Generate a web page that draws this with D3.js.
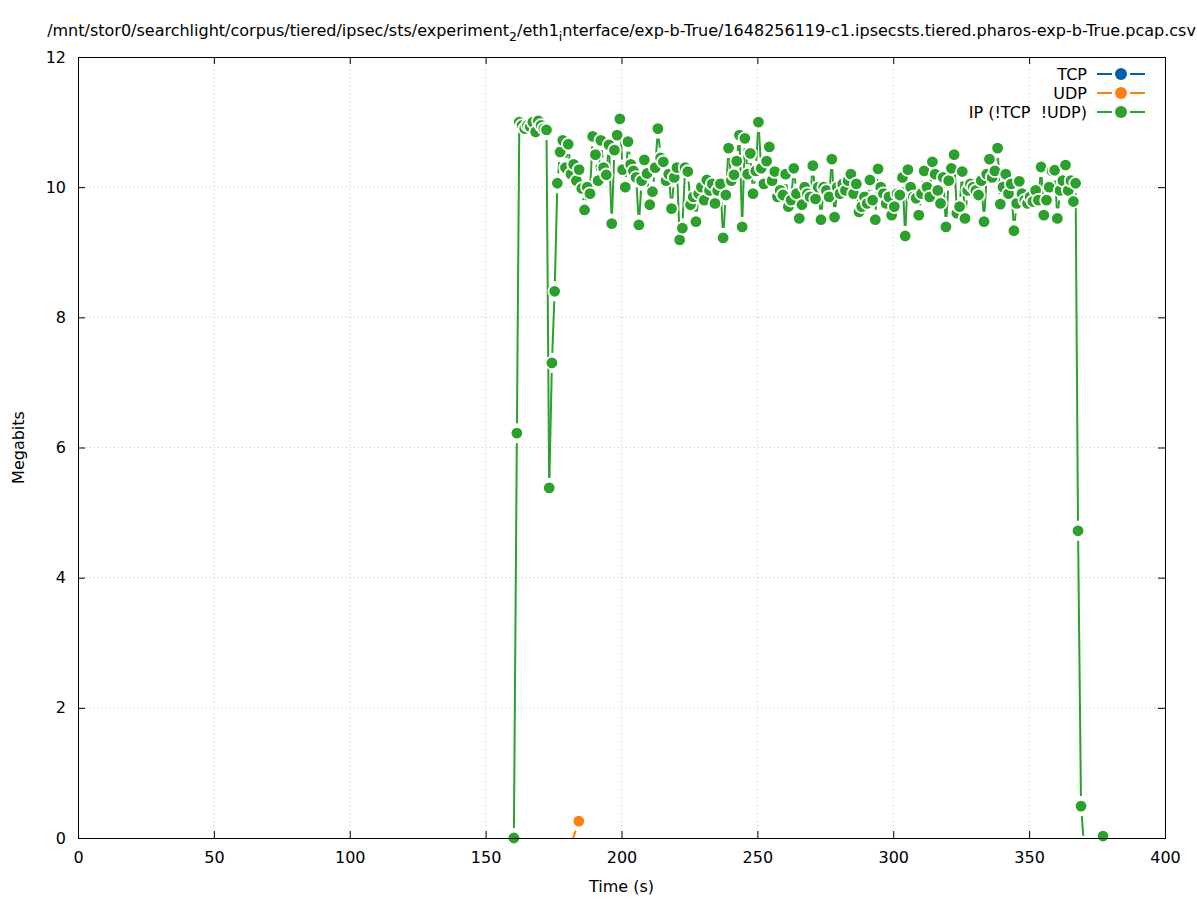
<!DOCTYPE html>
<meta charset="utf-8">
<style>
body { margin: 0; background: #fff; }
svg text { font-family: 'DejaVu Sans'; font-size: 16px; fill: #000; white-space: pre; }
.grid line { stroke: #c4c4c4; stroke-width: 1; stroke-dasharray: 1 3; }
.axis path { display: none; }
.axis line { stroke: #000; }
</style>
<svg id="svg" width="1197" height="900"></svg>
<script src="https://d3js.org/d3.v7.min.js"></script>
<script>

// title pieces, [text, isSubscript]
const titleParts = [
    ['/mnt/stor0/searchlight/corpus/tiered/ipsec/sts/experiment', false],
    ['2', true],
    ['/eth1', false],
    ['i', true],
    ['nterface/exp-b-True/1648256119-c1.ipsecsts.tiered.pharos-exp-b-True.pcap.csv', false]
]

const xTicks = [0, 50, 100, 150, 200, 250, 300, 350, 400]
const yTicks = [0, 2, 4, 6, 8, 10, 12]
const xLabel = 'Time (s)'
const yLabel = 'Megabits'

const seriesNames = ['TCP', 'UDP', 'IP (!TCP  !UDP)']

// [time (s), megabits]; samples just under 0 fall outside the y range,
// so only their clipped line pieces show
const tcpSeries = []
const udpSeries = [[180.6, -0.2], [184.3, 0.26]]
const ipSeries = [
    [160.4, 0], [161.5, 6.22], [162.4, 11.0], [163.4, 10.95], [164.4, 10.9], [165.4, 10.95],
    [166.4, 10.93], [167.4, 11.0], [168.4, 10.85], [169.4, 11.02], [170.4, 10.95], [171.4, 10.9],
    [172.4, 10.88], [173.4, 5.38], [174.4, 7.3], [175.4, 8.4], [176.4, 10.06], [177.4, 10.54],
    [178.4, 10.72], [179.4, 10.3], [180.4, 10.66], [181.4, 10.2], [182.4, 10.35], [183.4, 10.1],
    [184.4, 10.27], [185.4, 9.98], [186.4, 9.65], [187.4, 10.0], [188.4, 9.9], [189.4, 10.78],
    [190.4, 10.5], [191.4, 10.1], [192.4, 10.72], [193.4, 10.3], [194.4, 10.19], [195.4, 10.65],
    [196.4, 9.44], [197.4, 10.57], [198.4, 10.8], [199.4, 11.05], [200.4, 10.27], [201.4, 10.0],
    [202.4, 10.7], [203.4, 10.35], [204.4, 10.25], [205.4, 10.15], [206.4, 9.42], [207.4, 10.1],
    [208.4, 10.42], [209.4, 10.21], [210.4, 9.73], [211.4, 9.93], [212.4, 10.3], [213.4, 10.9],
    [214.4, 10.45], [215.4, 10.39], [216.4, 10.1], [217.4, 10.2], [218.4, 9.67], [219.4, 10.15],
    [220.4, 10.3], [221.4, 9.19], [222.4, 9.37], [223.4, 10.3], [224.4, 10.24], [225.4, 9.73],
    [226.4, 9.85], [227.4, 9.47], [228.4, 9.9], [229.4, 10.0], [230.4, 9.8], [231.4, 10.11],
    [232.4, 9.95], [233.4, 10.05], [234.4, 9.75], [235.4, 9.95], [236.4, 10.05], [237.4, 9.22],
    [238.4, 9.88], [239.4, 10.6], [240.4, 10.1], [241.4, 10.19], [242.4, 10.4], [243.4, 10.8],
    [244.4, 9.39], [245.4, 10.75], [246.4, 10.2], [247.4, 10.52], [248.4, 9.9], [249.4, 10.25],
    [250.4, 11.0], [251.4, 10.29], [252.4, 10.05], [253.4, 10.4], [254.4, 10.62], [255.4, 10.1],
    [256.4, 10.24], [257.4, 9.85], [258.4, 9.95], [259.4, 9.88], [260.4, 10.2], [261.4, 9.7],
    [262.4, 9.8], [263.4, 10.29], [264.4, 9.9], [265.4, 9.52], [266.4, 9.73], [267.4, 10.0],
    [268.4, 9.9], [269.4, 9.85], [270.4, 10.33], [271.4, 9.82], [272.4, 10.0], [273.4, 9.5],
    [274.4, 10.0], [275.4, 9.95], [276.4, 9.85], [277.4, 10.43], [278.4, 9.54], [279.4, 10.0],
    [280.4, 9.9], [281.4, 10.05], [282.4, 9.95], [283.4, 10.1], [284.4, 10.2], [285.4, 9.9],
    [286.4, 10.05], [287.4, 9.62], [288.4, 9.7], [289.4, 9.85], [290.4, 9.75], [291.4, 10.11],
    [292.4, 9.8], [293.4, 9.5], [294.4, 10.28], [295.4, 10.0], [296.4, 9.9], [297.4, 9.75],
    [298.4, 9.85], [299.4, 9.57], [300.4, 9.7], [301.4, 9.9], [302.4, 9.88], [303.4, 10.15],
    [304.4, 9.25], [305.4, 10.27], [306.4, 10.0], [307.4, 9.85], [308.4, 9.83], [309.4, 9.57],
    [310.4, 9.9], [311.4, 10.25], [312.4, 10.0], [313.4, 9.85], [314.4, 10.39], [315.4, 10.2],
    [316.4, 9.95], [317.4, 9.75], [318.4, 10.15], [319.4, 9.39], [320.4, 10.1], [321.4, 10.29],
    [322.4, 10.5], [323.4, 9.6], [324.4, 9.7], [325.4, 10.24], [326.4, 9.52], [327.4, 9.95],
    [328.4, 10.05], [329.4, 10.0], [330.4, 9.95], [331.4, 9.88], [332.4, 10.1], [333.4, 9.47],
    [334.4, 10.2], [335.4, 10.43], [336.4, 10.15], [337.4, 10.25], [338.4, 10.6], [339.4, 9.74],
    [340.4, 10.0], [341.4, 10.2], [342.4, 9.9], [343.4, 10.05], [344.4, 9.33], [345.4, 9.75],
    [346.4, 10.09], [347.4, 9.9], [348.4, 9.8], [349.4, 9.75], [350.4, 9.85], [351.4, 9.78],
    [352.4, 9.95], [353.4, 9.8], [354.4, 10.31], [355.4, 9.57], [356.4, 9.8], [357.4, 10.0],
    [358.4, 10.25], [359.4, 10.26], [360.4, 9.52], [361.4, 9.95], [362.4, 10.1], [363.4, 10.34],
    [364.4, 9.95], [365.4, 10.1], [366.3, 9.78], [367.1, 10.06], [368.0, 4.72], [369.1, 0.49],
    [370.2, -0.12], [377.2, 0.03]
]

const allSeries = [tcpSeries, udpSeries, ipSeries]
const colors = ['#0060ad', '#ff7f0e', '#2ca02c']

function translate(x, y) {
    return 'translate(' + x + ',' + y + ')'
}

let plot = {left: 78, right: 1165, top: 57, bottom: 838}
let svg = d3.select('#svg')

let x = d3.scaleLinear().domain([0, 400]).range([plot.left, plot.right])
let y = d3.scaleLinear().domain([0, 12]).range([plot.bottom, plot.top])

svg.append('clipPath').attr('id', 'plotclip')
    .append('rect')
    .attr('x', plot.left).attr('y', plot.top)
    .attr('width', plot.right - plot.left).attr('height', plot.bottom - plot.top)

// title
let title = svg.append('text')
    .attr('x', (plot.left + plot.right) / 2)
    .attr('y', 36)
    .attr('text-anchor', 'middle')

titleParts.forEach((p, i) => {
    let t = title.append('tspan').text(p[0])
    if (p[1]) {
        t.style('font-size', '12.5px').attr('dy', 5)
    } else if (i > 0) {
        t.attr('dy', -5)
    }
})

// dotted grid
let grid = svg.append('g').attr('class', 'grid')
grid.selectAll('.gx')
    .data(xTicks.slice(1, -1))
    .enter().append('line')
    .attr('x1', d => x(d)).attr('x2', d => x(d))
    .attr('y1', plot.bottom).attr('y2', plot.top)
grid.selectAll('.gy')
    .data(yTicks.slice(1, -1))
    .enter().append('line')
    .attr('x1', plot.left).attr('x2', plot.right)
    .attr('y1', d => y(d)).attr('y2', d => y(d))

// axes, ticks pointing inwards and mirrored
svg.append('g').attr('class', 'axis')
    .attr('transform', translate(0, plot.bottom))
    .call(d3.axisBottom(x).tickValues(xTicks).tickSize(-7).tickSizeOuter(0).tickPadding(14))
svg.append('g').attr('class', 'axis')
    .attr('transform', translate(0, plot.top))
    .call(d3.axisTop(x).tickValues(xTicks).tickSize(-7).tickSizeOuter(0).tickFormat(''))
svg.append('g').attr('class', 'axis')
    .attr('transform', translate(plot.left, 0))
    .call(d3.axisLeft(y).tickValues(yTicks).tickSize(-7).tickSizeOuter(0).tickPadding(12))
svg.append('g').attr('class', 'axis')
    .attr('transform', translate(plot.right, 0))
    .call(d3.axisRight(y).tickValues(yTicks).tickSize(-7).tickSizeOuter(0).tickFormat(''))

svg.selectAll('.axis text')
    .style('font-size', '16px')
    .style('font-family', 'DejaVu Sans')
    .attr('fill', '#000')

svg.append('text')
    .attr('x', (plot.left + plot.right) / 2)
    .attr('y', 892)
    .attr('text-anchor', 'middle')
    .text(xLabel)

svg.append('text')
    .attr('transform', translate(24, (plot.top + plot.bottom) / 2) + ' rotate(-90)')
    .attr('text-anchor', 'middle')
    .text(yLabel)

// linespoints, line broken around each point like gnuplot's pointinterval -1
let gap = 10
let inRange = d => d[1] >= 0 && d[1] <= 12
allSeries.forEach((data, k) => {
    let g = svg.append('g')
    let lines = g.append('g').attr('clip-path', 'url(#plotclip)')
    let pts = data.map(d => [x(d[0]), y(d[1])])
    for (let i = 1; i < pts.length; ++i) {
        let [x0, y0] = pts[i - 1], [x1, y1] = pts[i]
        let len = Math.hypot(x1 - x0, y1 - y0)
        if (len <= 2 * gap) continue
        let ux = (x1 - x0) / len, uy = (y1 - y0) / len
        lines.append('line')
            .attr('x1', x0 + ux * gap).attr('y1', y0 + uy * gap)
            .attr('x2', x1 - ux * gap).attr('y2', y1 - uy * gap)
            .attr('stroke', colors[k])
            .attr('stroke-width', 2)
    }
    g.selectAll('circle')
        .data(data.filter(inRange))
        .enter().append('circle')
        .attr('cx', d => x(d[0]))
        .attr('cy', d => y(d[1]))
        .attr('r', 6.3)
        .attr('fill', colors[k])
        .attr('stroke', '#fff')
        .attr('stroke-width', 1.8)
})

// border on top
svg.append('rect')
    .attr('x', plot.left).attr('y', plot.top)
    .attr('width', plot.right - plot.left).attr('height', plot.bottom - plot.top)
    .attr('fill', 'none')
    .attr('stroke', '#000')
    .attr('stroke-width', 1)
    .attr('shape-rendering', 'crispEdges')

// legend
let legend = svg.append('g')
let rows = legend.selectAll('g')
    .data(seriesNames)
    .enter().append('g')
    .attr('transform', (d, i) => translate(0, 74 + i * 19))

rows.append('text')
    .attr('x', 1087)
    .attr('dy', '0.35em')
    .attr('text-anchor', 'end')
    .text(d => d)
rows.append('line')
    .attr('x1', 1097).attr('x2', 1112)
    .attr('stroke', (d, i) => colors[i]).attr('stroke-width', 2)
rows.append('line')
    .attr('x1', 1130).attr('x2', 1145)
    .attr('stroke', (d, i) => colors[i]).attr('stroke-width', 2)
rows.append('circle')
    .attr('cx', 1121)
    .attr('r', 6)
    .attr('fill', (d, i) => colors[i])

</script>
